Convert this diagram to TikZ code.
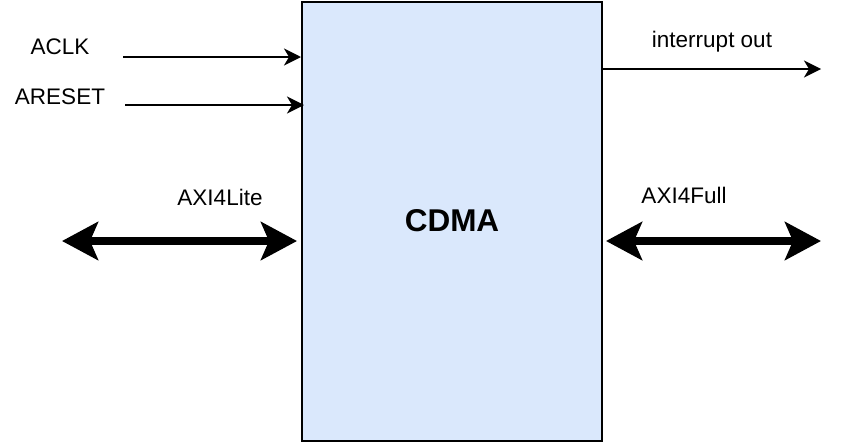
\documentclass[tikz,border=0pt]{standalone}
\usepackage{fontspec}
\setmainfont{Liberation Sans}
\usetikzlibrary{arrows.meta, positioning, calc}
\definecolor{blockblue}{HTML}{DAE8FC}

\begin{document}
\begin{tikzpicture}[x=1pt, y=-1pt,
	lbl/.style={inner sep=0pt, font=\fontsize{22.5}{27}\selectfont},
	sig/.style={line width=2pt, -{Stealth[length=17pt, width=17pt, inset=5pt]}},
	bus/.style={line width=8pt, {Stealth[length=36pt, width=38pt, inset=8pt]}-{Stealth[length=36pt, width=38pt, inset=8pt]}}]
	
	\useasboundingbox (0,0) rectangle (842,442);
	
	%% the block
	\node[draw=black, line width=2pt, fill=blockblue, minimum width=300pt, minimum height=439pt,
		inner sep=0pt, anchor=north west, font=\bfseries\fontsize{31.5}{36}\selectfont] (cdma) at (301,1) {\raisebox{3pt}{CDMA}};
	
	%% inputs
	\node[lbl] (aclk) at (60,47) {ACLK};
	\node[lbl] (areset) at (60,97) {ARESET};
	\coordinate (aclkin) at (123,57);
	\coordinate (aresetin) at (125,105);
	\draw[sig] (aclkin) -- (aclkin -| cdma.west);
	\draw[sig] (aresetin) -- ($(aresetin -| cdma.west)+(3,0)$);
	
	%% output
	\node[lbl] (irq) at (712,42) {interrupt out};
	\coordinate (irqout) at (821,69);
	\draw[sig] ($(cdma.east |- irqout)+(-2,0)$) -- (irqout);
	
	%% buses
	\node[lbl] (lite) at (220,197) {AXI4Lite};
	\node[lbl] (full) at (684,195) {AXI4Full};
	\coordinate (litebus) at (62,241);
	\coordinate (fullbus) at (821,241);
	\draw[bus] (litebus) -- ($(litebus -| cdma.west)+(-4,0)$);
	\draw[bus] ($(cdma.east |- fullbus)+(3,0)$) -- (fullbus);
\end{tikzpicture}
\end{document}
